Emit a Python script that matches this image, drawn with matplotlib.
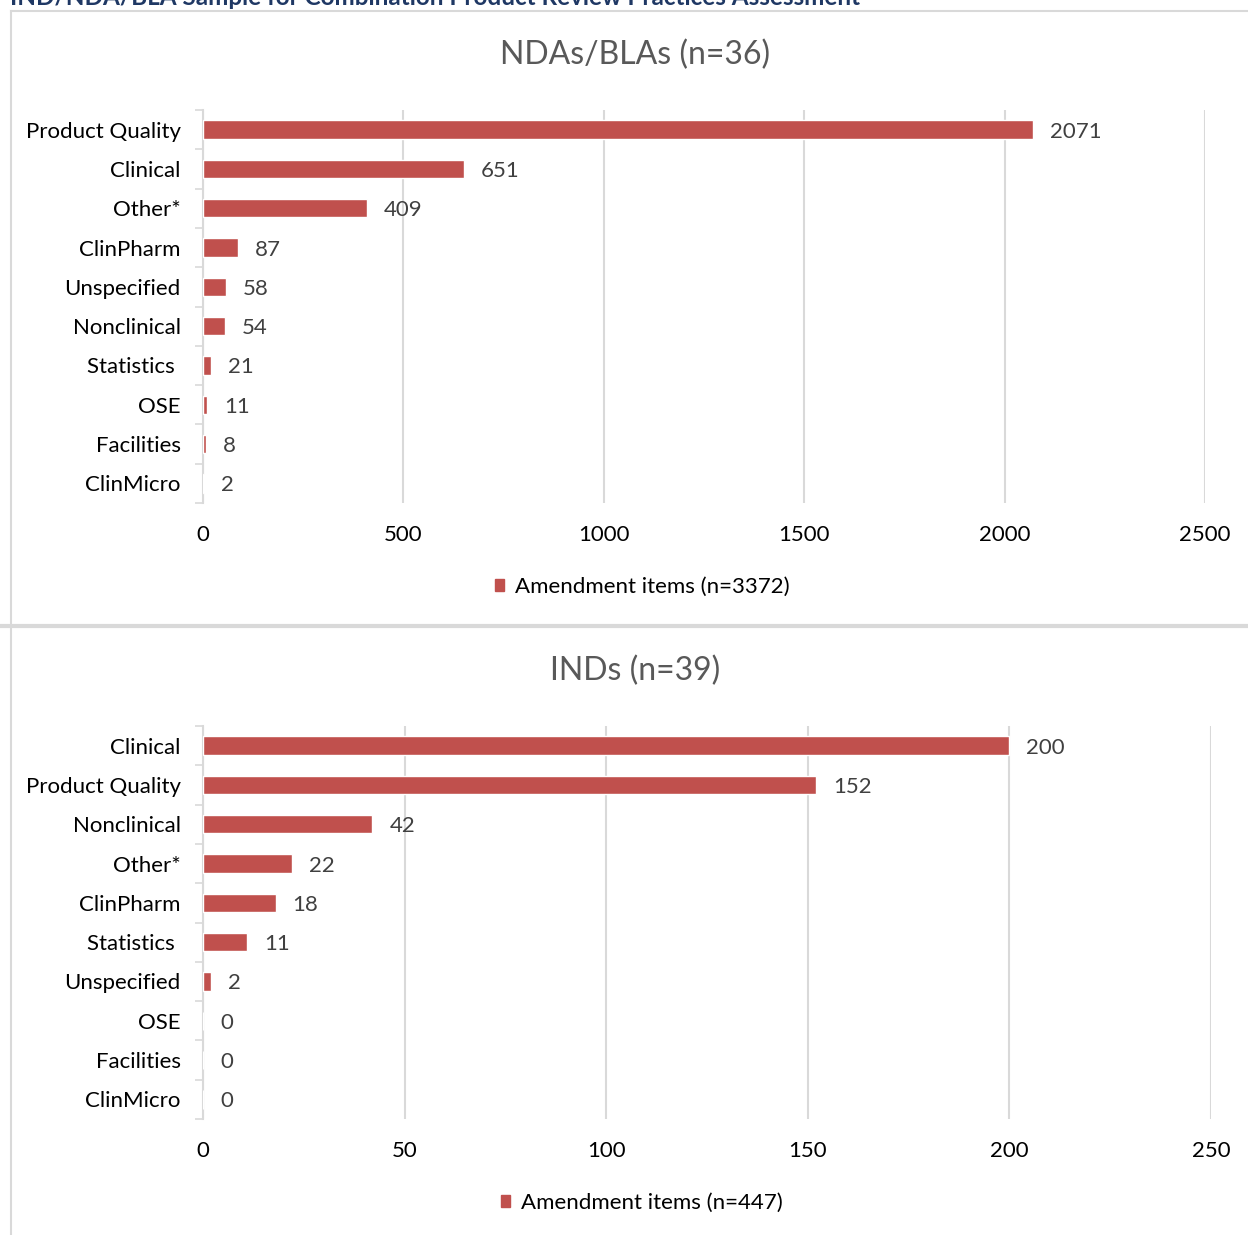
import matplotlib
matplotlib.use("Agg")
import matplotlib.pyplot as plt
from matplotlib.patches import Patch
from matplotlib.lines import Line2D

plt.rcParams['font.family'] = ['Lato', 'DejaVu Sans']

nda_categories = ["Product Quality", "Clinical", "Other*", "ClinPharm", "Unspecified",
                  "Nonclinical", "Statistics ", "OSE", "Facilities", "ClinMicro"]
nda_values = [2071, 651, 409, 87, 58, 54, 21, 11, 8, 2]
nda_ticks = [0, 500, 1000, 1500, 2000, 2500]

ind_categories = ["Clinical", "Product Quality", "Nonclinical", "Other*", "ClinPharm",
                  "Statistics ", "Unspecified", "OSE", "Facilities", "ClinMicro"]
ind_values = [200, 152, 42, 22, 18, 11, 2, 0, 0, 0]
ind_ticks = [0, 50, 100, 150, 200, 250]

nda_title = "NDAs/BLAs (n=36)"
ind_title = "INDs (n=39)"
nda_legend = "Amendment items (n=3372)"
ind_legend = "Amendment items (n=447)"
sup_title = "IND/NDA/BLA Sample for Combination Product Review Practices Assessment"

W, H = 1248, 1235
BAR = "#C0504D"
GRID = "#D9D9D9"
TXT = "#404040"

fig = plt.figure(figsize=(W / 100, H / 100), dpi=100)


def fy(px):
    return 1 - px / H


def fx(px):
    return px / W


# panel borders
for line in [
    Line2D([fx(11), 1], [fy(11), fy(11)], color=GRID, lw=1.5),
    Line2D([fx(11), fx(11)], [fy(11), fy(626)], color=GRID, lw=1.5),
    Line2D([0, 1], [fy(626), fy(626)], color=GRID, lw=3),
    Line2D([fx(11), fx(11)], [fy(628), 0], color=GRID, lw=1.5),
]:
    fig.add_artist(line)

fig.text(fx(10), fy(5), sup_title, fontsize=17.5, fontweight='bold', color="#1F3864",
         ha='left', va='baseline')


def panel(rect, cats, vals, ticks, title, title_y, legend, legend_xy):
    ax = fig.add_axes(rect)
    n = len(cats)
    pos = list(range(n))
    ax.barh(pos, vals, height=0.47, color=BAR, edgecolor='white', linewidth=1, zorder=3)
    ax.set_ylim(n - 0.5, -0.5)
    ax.set_xlim(ticks[0], ticks[-1])
    ax.set_xticks(ticks)
    ax.set_xticklabels([str(t) for t in ticks], fontsize=16, color='black')
    ax.set_yticks(pos)
    ax.set_yticklabels(cats, fontsize=16, color='black')
    ax.set_yticks([i - 0.5 for i in range(n + 1)], minor=True)
    ax.tick_params(axis='y', which='major', length=0, pad=16)
    ax.tick_params(axis='y', which='minor', length=6, color=GRID, width=1.2)
    ax.tick_params(axis='x', length=0, pad=16)
    for s in ['top', 'right', 'bottom']:
        ax.spines[s].set_visible(False)
    ax.spines['left'].set_color(GRID)
    ax.spines['left'].set_linewidth(1.5)
    ax.grid(axis='x', color=GRID, lw=1.5, zorder=0)
    ax.set_axisbelow(True)
    for p, v in zip(pos, vals):
        ax.annotate(str(v), (v, p), xytext=(17, 0), textcoords='offset pixels',
                    ha='left', va='center_baseline', fontsize=16, color=TXT)
    fig.text(fx(635), fy(title_y), title, fontsize=23, color="#595959", ha='center', va='center')
    fig.legend(handles=[Patch(color=BAR)], labels=[legend], loc='center',
               bbox_to_anchor=(fx(legend_xy[0]), fy(legend_xy[1])), frameon=False,
               fontsize=16, handlelength=0.4, handleheight=0.4, handletextpad=0.5,
               labelcolor='black')
    return ax


panel([fx(203), fy(503), (1205 - 203) / W, 393 / H], nda_categories, nda_values, nda_ticks,
      nda_title, 55, nda_legend, (642, 587))
panel([fx(203), fy(1119), (1211 - 203) / W, 393 / H], ind_categories, ind_values, ind_ticks,
      ind_title, 671, ind_legend, (642, 1203))

fig.savefig("out.png", dpi=100)
